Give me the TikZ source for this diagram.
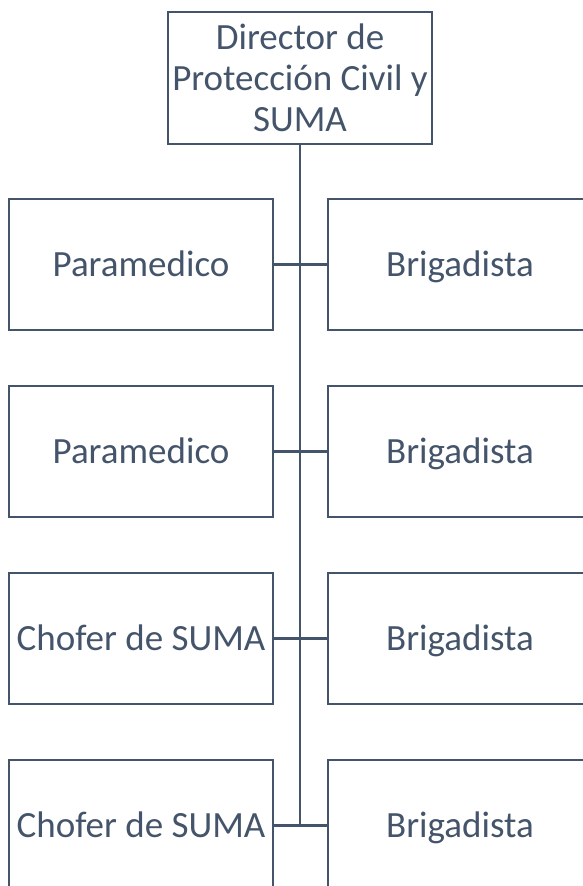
\documentclass[tikz,border=0pt]{standalone}
\usepackage{fontspec}
\setmainfont{Carlito}
\definecolor{slate}{HTML}{44546A}
\tikzset{
  orgbox/.style={draw=slate, line width=2pt, minimum width=264pt, minimum height=131pt,
    inner sep=0pt, align=center, text=slate, font=\fontsize{37}{41}\selectfont},
  rowbox/.style={orgbox, text height=30pt, text depth=7pt},
  link/.style={draw=slate, line width=2.2pt},
  spine/.style={draw=slate, line width=2.8pt}
}
\begin{document}
\begin{tikzpicture}[x=1pt,y=-1pt]
\useasboundingbox (0,0) rectangle (583,886);
\clip (0,0) rectangle (583,886);
\node[orgbox, minimum height=132pt] (top) at (300,78) {Director de\\Protección Civil y\\SUMA};
\node[rowbox] (L1) at (141,264.5) {Paramedico};
\node[rowbox] (R1) at (460,264.5) {Brigadista};
\node[rowbox] (L2) at (141,451.5) {Paramedico};
\node[rowbox] (R2) at (460,451.5) {Brigadista};
\node[rowbox] (L3) at (141,638.5) {Chofer de SUMA};
\node[rowbox] (R3) at (460,638.5) {Brigadista};
\node[rowbox] (L4) at (141,825.5) {Chofer de SUMA};
\node[rowbox] (R4) at (460,825.5) {Brigadista};
\coordinate (spineend) at (top.south |- L4.east);
\draw[spine] (top.south) -- (spineend);
\draw[link] (L1.east) -- (R1.west);
\draw[link] (L2.east) -- (R2.west);
\draw[link] (L3.east) -- (R3.west);
\draw[link] (L4.east) -- (R4.west);
\end{tikzpicture}
\end{document}
